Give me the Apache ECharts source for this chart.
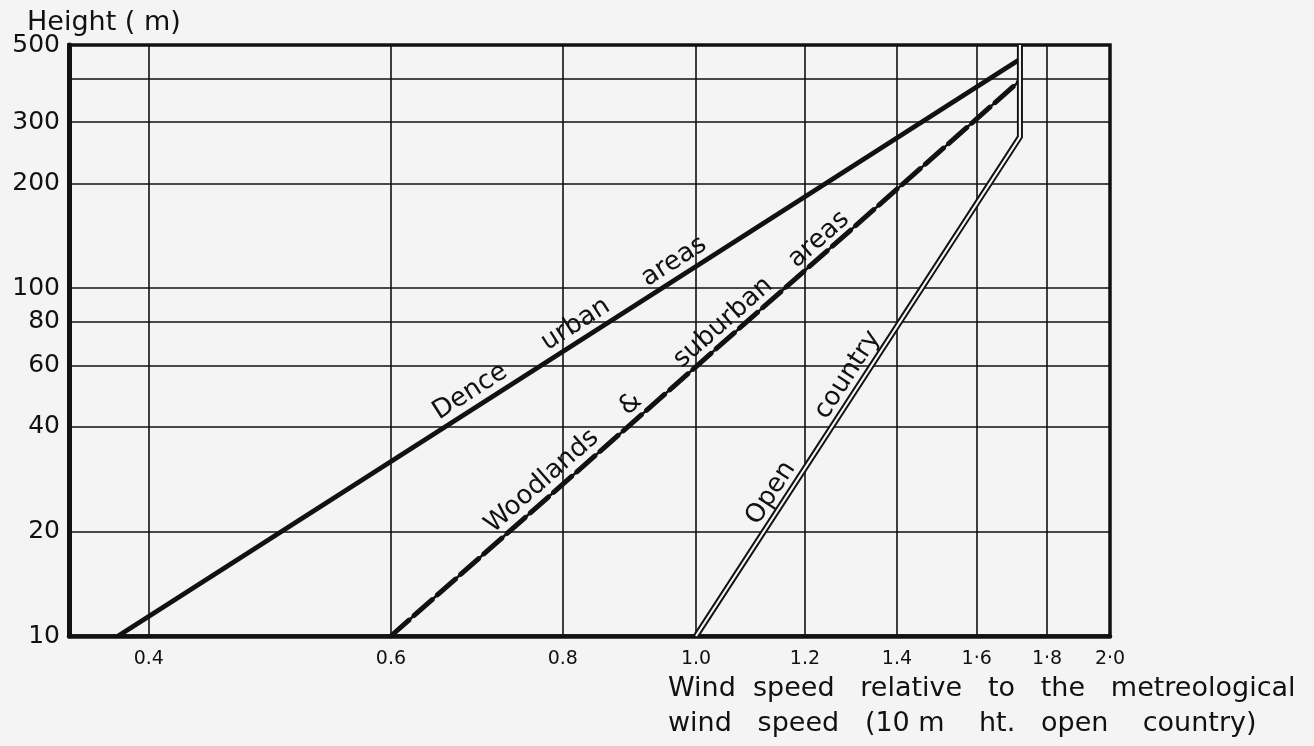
<!DOCTYPE html>
<html>
<head>
<meta charset="utf-8">
<script src="https://cdn.jsdelivr.net/npm/echarts@6/dist/echarts.min.js"></script>
<style>
html,body{margin:0;padding:0;background:#f4f4f4;}
#main{width:1314px;height:746px;}
</style>
</head>
<body>
<div id="main"></div>
<script>
// ---- data (log-log plot) ----
const xTicks = [0.4, 0.6, 0.8, 1.0, 1.2, 1.4, 1.6, 1.8, 2.0];
const xTickLabels = ['0.4', '0.6', '0.8', '1.0', '1.2', '1.4', '1·6', '1·8', '2·0'];
const yTicks = [10, 20, 40, 60, 80, 100, 200, 300, 400, 500];
const yTickLabels = ['10', '20', '40', '60', '80', '100', '200', '300', '', '500'];
const xRange = [0.35, 2.0];
const yRange = [10, 500];

const denseUrbanSpeed = [0.38, 1.72];
const denseUrbanHeight = [10, 455];
const woodlandsSpeed = [0.6, 1.72];
const woodlandsHeight = [10, 395];
const openCountrySpeed = [1.0, 1.72, 1.72];
const openCountryHeight = [10, 272, 500];

const yAxisTitle = 'Height ( m)';
const xAxisTitle = ['Wind  speed   relative   to   the   metreological',
                    'wind   speed   (10 m    ht.   open    country)'];
const denseWords = ['Dence', 'urban', 'areas'];
const woodWords = ['Woodlands', '&', 'suburban', 'areas'];
const openWords = ['Open', 'country'];

// ---- helpers ----
const L = Math.log10;
const BG = '#f4f4f4';
const INK = '#111';
const FONT = 'DejaVu Sans';
function pts(sp, h) { return sp.map((s, i) => [L(s), L(h[i])]); }
function lookup(ticks, labels, v) {
  let best = 0, bd = Infinity;
  ticks.forEach((t, i) => { const d = Math.abs(L(t) - v); if (d < bd) { bd = d; best = i; } });
  return bd < 1e-6 ? labels[best] : '';
}

const chart = echarts.init(document.getElementById('main'), null, {renderer: 'canvas'});

const option = {
  animation: false,
  backgroundColor: BG,
  grid: {left: 69, right: 204, top: 45, bottom: 110, show: true,
         borderColor: INK, borderWidth: 3.5, backgroundColor: 'transparent'},
  xAxis: {
    type: 'value', min: L(xRange[0]), max: L(xRange[1]),
    axisLine: {show: true, onZero: false, lineStyle: {color: INK, width: 4.5}},
    axisTick: {show: false, customValues: xTicks.map(L)},
    axisLabel: {customValues: xTicks.map(L), margin: 14, color: INK,
                fontFamily: FONT, fontSize: 19,
                formatter: v => lookup(xTicks, xTickLabels, v)},
    splitLine: {show: true, lineStyle: {color: INK, width: 1.6}}
  },
  yAxis: {
    type: 'value', min: L(yRange[0]), max: L(yRange[1]),
    axisLine: {show: true, onZero: false, lineStyle: {color: INK, width: 5}},
    axisTick: {show: false, customValues: yTicks.map(L)},
    axisLabel: {customValues: yTicks.map(L), margin: 9, color: INK,
                fontFamily: FONT, fontSize: 25,
                formatter: v => lookup(yTicks, yTickLabels, v)},
    splitLine: {show: true, lineStyle: {color: INK, width: 1.6}}
  },
  series: [
    {name: 'Dense urban areas', type: 'line', symbol: 'none', z: 5,
     data: pts(denseUrbanSpeed, denseUrbanHeight),
     lineStyle: {color: INK, width: 4.8}},
    {name: 'Woodlands & suburban areas', type: 'line', symbol: 'none', z: 5,
     data: pts(woodlandsSpeed, woodlandsHeight),
     lineStyle: {color: INK, width: 2.5}},
    {name: 'Woodlands & suburban areas (dash)', type: 'line', symbol: 'none', z: 6,
     data: pts(woodlandsSpeed, woodlandsHeight),
     lineStyle: {color: INK, width: 5, type: [24, 7], cap: 'round'}},
    {name: 'Open country', type: 'line', symbol: 'none', z: 7,
     data: pts(openCountrySpeed, openCountryHeight),
     lineStyle: {color: INK, width: 6, join: 'miter'}},
    {name: 'Open country (inner)', type: 'line', symbol: 'none', z: 8,
     data: pts(openCountrySpeed, openCountryHeight),
     lineStyle: {color: BG, width: 2.2, join: 'miter'}}
  ]
};
chart.setOption(option);

// ---- text labels along the lines ----
function along(sp, h, i0, i1, words, ts, offs, size) {
  const p0 = chart.convertToPixel({gridIndex: 0}, [L(sp[i0]), L(h[i0])]);
  const p1 = chart.convertToPixel({gridIndex: 0}, [L(sp[i1]), L(h[i1])]);
  const dx = p1[0] - p0[0], dy = p1[1] - p0[1], len = Math.hypot(dx, dy);
  const ux = dx / len, uy = dy / len, nx = uy, ny = -ux;
  const rot = Math.atan2(-dy, dx);
  return words.map((w, k) => ({
    type: 'text', z: 20,
    x: p0[0] + ux * len * ts[k] + nx * offs[k],
    y: p0[1] + uy * len * ts[k] + ny * offs[k],
    rotation: rot,
    style: {text: w, fontFamily: FONT, fontSize: size, fill: INK,
            align: 'center', verticalAlign: 'middle'}
  }));
}

const graphics = [].concat(
  along(denseUrbanSpeed, denseUrbanHeight, 0, 1, denseWords,
        [0.400, 0.517, 0.626], [16, 16, 16], 26),
  along(woodlandsSpeed, woodlandsHeight, 0, 1, woodWords,
        [0.257, 0.397, 0.544, 0.695], [16, 15, 15, 14], 26),
  along(openCountrySpeed, openCountryHeight, 0, 1, openWords,
        [0.270, 0.507], [15, 15], 26),
  [
    {type: 'text', x: 27, y: 23, z: 20,
     style: {text: yAxisTitle, fontFamily: FONT, fontSize: 27, fill: INK,
             align: 'left', verticalAlign: 'middle'}},
    {type: 'text', x: 668, y: 689, z: 20,
     style: {text: xAxisTitle[0], fontFamily: FONT, fontSize: 27, fill: INK,
             align: 'left', verticalAlign: 'middle'}},
    {type: 'text', x: 668, y: 724, z: 20,
     style: {text: xAxisTitle[1], fontFamily: FONT, fontSize: 27, fill: INK,
             align: 'left', verticalAlign: 'middle'}}
  ]
);
chart.setOption({graphic: graphics});
</script>
</body>
</html>
